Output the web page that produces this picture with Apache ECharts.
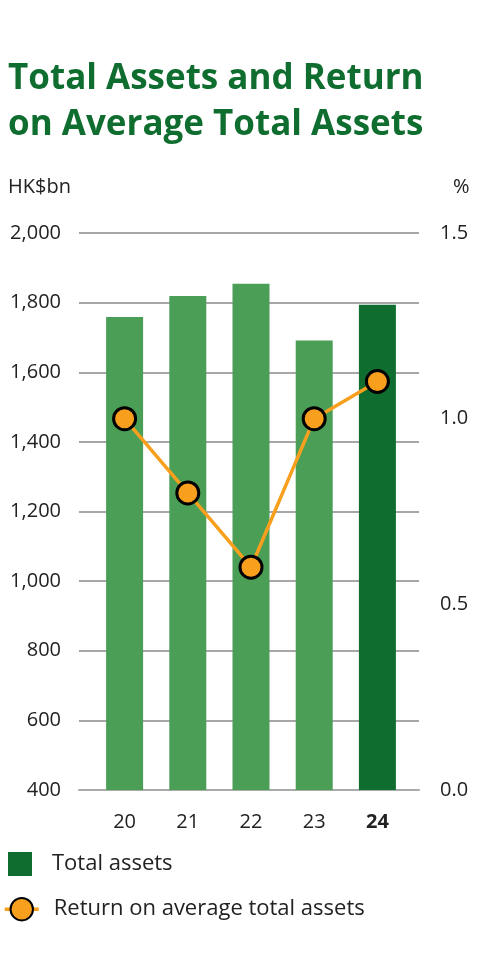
<!DOCTYPE html>
<html>
<head>
<meta charset="utf-8">
<script src="https://cdn.jsdelivr.net/npm/echarts@6/dist/echarts.min.js"></script>
<style>
  html, body { margin: 0; padding: 0; background: #fff; }
  #content { width: 500px; height: 956px; }
</style>
</head>
<body>
<div id="content"></div>
<script>
var years = ['20', '21', '22', '23', '24'];
var totalAssets = [1759, 1819, 1854, 1691, 1794];
var returnOnAssets = [1.0, 0.8, 0.6, 1.0, 1.1];
var leftTicks = [400, 2000, 200];
var rightTicks = [0, 1.5, 0.5];

var font = 'Open Sans';
var lightGreen = '#4b9e56';
var darkGreen = '#0f6e2f';
var orange = '#f89f1e';
var textColor = '#222';

var barData = totalAssets.map(function (v, i) {
    return i === totalAssets.length - 1 ? {value: v, itemStyle: {color: darkGreen}} : v;
});

var myChart = echarts.init(document.getElementById('content'));
myChart.setOption(
    option = {
        animation: false,
        title: [
            {
                text: 'Total Assets and Return\non Average Total Assets',
                left: 8, top: 56, padding: 0,
                textStyle: {color: darkGreen, fontFamily: font, fontWeight: 'bold', fontSize: 35, lineHeight: 46}
            },
            {
                text: 'HK$bn', left: 8, top: 177, padding: 0,
                textStyle: {color: textColor, fontFamily: font, fontWeight: 'normal', fontSize: 20}
            },
            {
                text: '%', left: 453, top: 177, padding: 0,
                textStyle: {color: textColor, fontFamily: font, fontWeight: 'normal', fontSize: 20}
            }
        ],
        // grid 0 carries the gridlines and value labels, grid 1 the marks
        grid: [
            {left: 79, right: 81, top: 233, bottom: 166},
            {left: 93, right: 91, top: 233, bottom: 166}
        ],
        legend: [
            {
                left: 8, top: 852, padding: 0,
                itemWidth: 24, itemHeight: 24,
                data: [{name: 'Total assets', icon: 'rect', itemStyle: {color: darkGreen}}],
                textStyle: {fontFamily: font, fontSize: 22, color: textColor, padding: [2, 0, 0, 15]}
            },
            {
                left: 3, top: 897, padding: 0,
                itemWidth: 34, itemHeight: 28,
                lineStyle: {width: 3.5},
                data: ['Return on average total assets'],
                textStyle: {fontFamily: font, fontSize: 22, color: textColor, padding: [0, 0, 0, 10]}
            }
        ],
        xAxis: [
            {
                type: 'category',
                gridIndex: 0,
                data: years,
                axisTick: {show: false},
                axisLabel: {show: false},
                axisLine: {lineStyle: {color: '#aaa', width: 2}}
            },
            {
                type: 'category',
                gridIndex: 1,
                data: years,
                axisTick: {show: false},
                axisLine: {show: false},
                axisLabel: {
                    interval: 0,
                    margin: 22,
                    fontFamily: font, fontSize: 20, color: textColor,
                    formatter: function (v) {
                        return v === years[years.length - 1] ? '{b|' + v + '}' : v;
                    },
                    rich: {b: {fontFamily: font, fontSize: 20, fontWeight: 'bold', color: textColor}}
                }
            }
        ],
        yAxis: [
            {
                type: 'value',
                gridIndex: 0,
                min: leftTicks[0], max: leftTicks[1], interval: leftTicks[2],
                axisLine: {show: false}, axisTick: {show: false},
                splitLine: {lineStyle: {color: '#8a8a8a', width: 1.5}},
                axisLabel: {
                    margin: 18,
                    fontFamily: font, fontSize: 20, color: textColor,
                    formatter: function (v) { return v.toLocaleString('en-US'); }
                }
            },
            {
                type: 'value',
                gridIndex: 0,
                min: rightTicks[0], max: rightTicks[1], interval: rightTicks[2],
                axisLine: {show: false}, axisTick: {show: false},
                splitLine: {show: false},
                axisLabel: {
                    margin: 21,
                    fontFamily: font, fontSize: 20, color: textColor,
                    formatter: function (v) { return v.toFixed(1); }
                }
            },
            {
                type: 'value',
                gridIndex: 1,
                min: leftTicks[0], max: leftTicks[1], interval: leftTicks[2],
                show: false
            },
            {
                type: 'value',
                gridIndex: 1,
                min: rightTicks[0], max: rightTicks[1], interval: rightTicks[2],
                show: false
            }
        ],
        series: [
            {
                name: 'Total assets',
                type: 'bar',
                xAxisIndex: 1,
                yAxisIndex: 2,
                barWidth: 37,
                itemStyle: {color: lightGreen},
                data: barData
            },
            {
                name: 'Return on average total assets',
                type: 'line',
                xAxisIndex: 1,
                yAxisIndex: 3,
                symbol: 'circle',
                symbolSize: 22,
                lineStyle: {color: orange, width: 3.5},
                itemStyle: {color: orange, borderColor: '#000', borderWidth: 3},
                data: returnOnAssets
            }
        ]
    });
</script>
</body>
</html>
